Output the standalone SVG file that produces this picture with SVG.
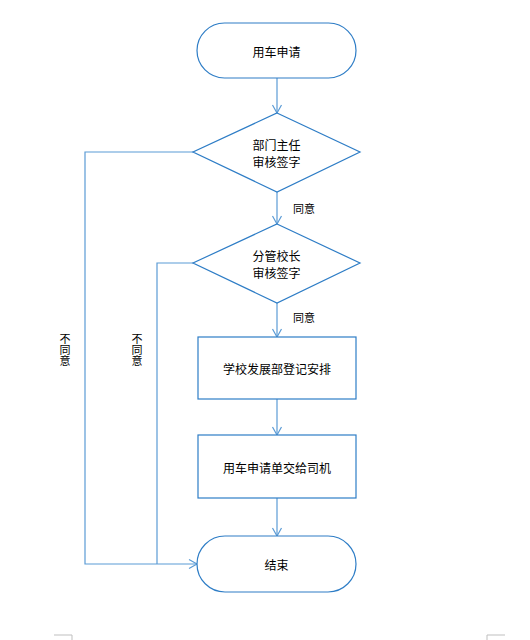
<svg xmlns="http://www.w3.org/2000/svg" width="530" height="640" viewBox="0 0 530 640">
<style>
.node{fill:#fff;stroke:#2E7DC6;stroke-width:1.2}
.edge{fill:none;stroke:#5B9BD5;stroke-width:1.2}
.t{font-family:"Noto Sans CJK SC","Liberation Sans",sans-serif;font-size:12px;fill:#000;text-anchor:middle;dominant-baseline:central}
.l{font-family:"Noto Sans CJK SC","Liberation Sans",sans-serif;font-size:11px;fill:#000;text-anchor:middle;dominant-baseline:central}
.v{font-family:"Noto Sans CJK SC","Liberation Sans",sans-serif;font-size:11px;fill:#000;text-anchor:middle;writing-mode:vertical-rl;text-orientation:upright}
.mark{fill:none;stroke:#BFBFBF;stroke-width:1}
</style>
<defs>
<marker id="arr" markerWidth="12" markerHeight="12" refX="10" refY="6" orient="auto" markerUnits="userSpaceOnUse">
<path d="M2,1.5 L10,6 L2,10.5" fill="none" stroke="#5B9BD5" stroke-width="1.2"/>
</marker>
</defs>
<rect width="530" height="640" fill="#fff"/>
<g id="connectors">
<line class="edge" x1="277" y1="78" x2="277" y2="113" marker-end="url(#arr)"/>
<line class="edge" x1="277" y1="192" x2="277" y2="224" marker-end="url(#arr)"/>
<line class="edge" x1="277" y1="303" x2="277" y2="337" marker-end="url(#arr)"/>
<line class="edge" x1="277" y1="399" x2="277" y2="435" marker-end="url(#arr)"/>
<line class="edge" x1="277" y1="498" x2="277" y2="536" marker-end="url(#arr)"/>
<polyline class="edge" points="193,152 85,152 85,564 197,564" marker-end="url(#arr)"/>
<polyline class="edge" points="193,263 157,263 157,564"/>
<text class="l" x="304" y="208">同意</text>
<text class="l" x="304" y="317">同意</text>
<text class="v" x="65" y="350">不同意</text>
<text class="v" x="137" y="350">不同意</text>
</g>
<g id="start">
<rect class="node" x="197" y="23" width="159" height="55" rx="27.5"/>
<text class="t" x="276.5" y="51">用车申请</text>
</g>
<g id="dept">
<polygon class="node" points="277,113 360,152 277,192 193,152"/>
<text class="t" x="276.5" y="144">部门主任</text>
<text class="t" x="276.5" y="161">审核签字</text>
</g>
<g id="principal">
<polygon class="node" points="277,224 360,263 277,303 193,263"/>
<text class="t" x="276.5" y="255">分管校长</text>
<text class="t" x="276.5" y="272">审核签字</text>
</g>
<g id="register">
<rect class="node" x="198" y="337" width="158" height="62"/>
<text class="t" x="277" y="368">学校发展部登记安排</text>
</g>
<g id="handover">
<rect class="node" x="198" y="435" width="158" height="63"/>
<text class="t" x="277" y="467">用车申请单交给司机</text>
</g>
<g id="end">
<rect class="node" x="197" y="536" width="159" height="56" rx="28"/>
<text class="t" x="276.5" y="564">结束</text>
</g>
<g id="marks">
<polyline class="mark" points="54,635 72,635 72,640"/>
<polyline class="mark" points="505,635 487,635 487,640"/>
</g>
</svg>
